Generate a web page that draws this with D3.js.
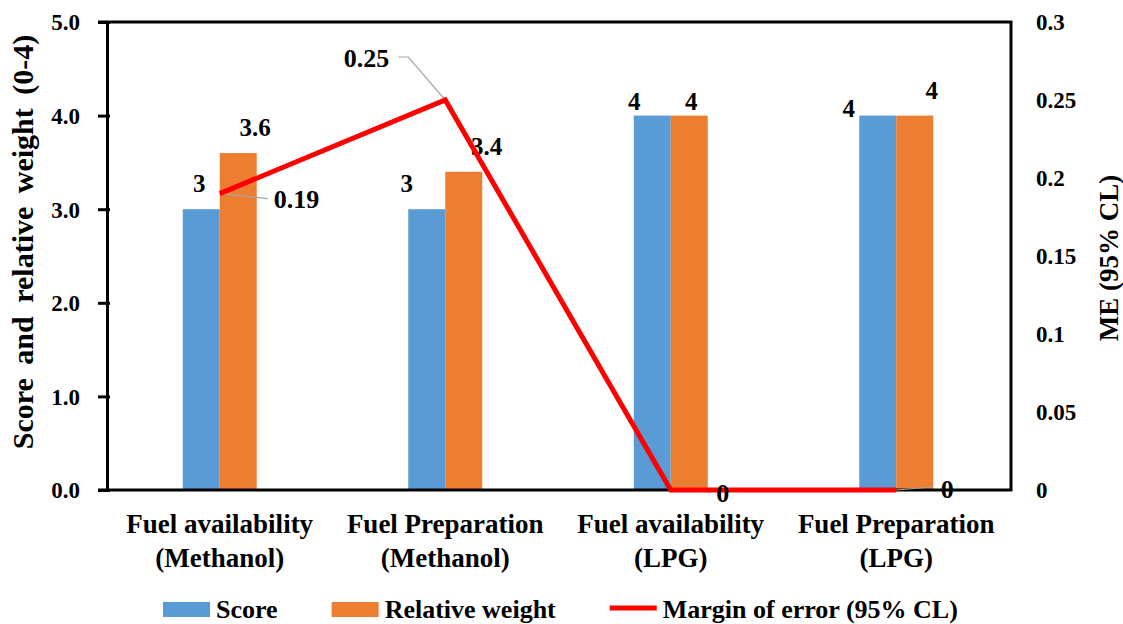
<!DOCTYPE html>
<html>
<head>
<meta charset="utf-8">
<script src="https://cdn.jsdelivr.net/npm/d3@7"></script>
<style>
  html, body { margin: 0; padding: 0; background: #fff; }
  svg { display: block; font-family: "Liberation Serif", "Times New Roman", serif; font-weight: bold; }
</style>
</head>
<body>
<div id="container"></div>
<script>
// data
const categories = [
  ["Fuel availability", "(Methanol)"],
  ["Fuel Preparation", "(Methanol)"],
  ["Fuel availability", "(LPG)"],
  ["Fuel Preparation", "(LPG)"]
];
const score = [3, 3, 4, 4];
const relativeWeight = [3.6, 3.4, 4, 4];
const marginOfError = [0.19, 0.25, 0, 0];
const leftTicks = [0, 1, 2, 3, 4, 5];
const rightTicks = [0, 0.05, 0.1, 0.15, 0.2, 0.25, 0.3];
const seriesNames = ["Score", "Relative weight", "Margin of error (95% CL)"];

// hand placed label nudges (dx, dy from bar top centre), like the moved Excel labels
const scoreNudge = [[-2, -17], [-20, -17], [-18, -6], [-29, 1]];
const weightNudge = [[17, -17], [23, -17], [2, -6], [17, -17]];
// line label nudges from the point, with leader line bends
const meLabels = [
  { anchor: "start", dx: 54, dy: 14, leader: [[48, 5]] },
  { anchor: "end", dx: -56, dy: -33, leader: [[-37, -43], [-47, -43]] },
  { anchor: "middle", dx: 52, dy: 12, leader: [[39, 2]] },
  { anchor: "middle", dx: 51, dy: 8, leader: [[36, -3]] }
];

function init() {
  const width = 1123;
  const height = 624;
  const margin = { top: 22, right: 114, bottom: 134, left: 107 };
  const blue = "#5b9bd5";
  const orange = "#ed7d31";
  const red = "#ff0000";
  const serif = "Liberation Serif, Times New Roman, serif";

  const svg = d3
    .select("#container")
    .append("svg")
    .attr("width", width)
    .attr("height", height);

  const x0 = d3
    .scaleBand()
    .domain(d3.range(categories.length))
    .range([margin.left, width - margin.right])
    .paddingInner(0.672)
    .paddingOuter(0.336);
  const x1 = d3
    .scaleBand()
    .domain([0, 1])
    .range([0, x0.bandwidth()]);
  const y = d3
    .scaleLinear()
    .domain([0, 5])
    .range([height - margin.bottom, margin.top]);
  const y2 = d3
    .scaleLinear()
    .domain([0, 0.3])
    .range([height - margin.bottom, margin.top]);

  const cx = i => x0(i) + x0.bandwidth() / 2;
  const plotRight = width - margin.right + 2;

  // bars
  const groups = svg
    .append("g")
    .selectAll("g")
    .data(categories)
    .join("g")
    .attr("transform", (d, i) => `translate(${x0(i)},0)`);
  groups
    .append("rect")
    .attr("x", x1(0))
    .attr("width", x1.bandwidth())
    .attr("y", (d, i) => y(score[i]))
    .attr("height", (d, i) => y(0) - y(score[i]))
    .attr("fill", blue);
  groups
    .append("rect")
    .attr("x", x1(1))
    .attr("width", x1.bandwidth())
    .attr("y", (d, i) => y(relativeWeight[i]))
    .attr("height", (d, i) => y(0) - y(relativeWeight[i]))
    .attr("fill", orange);

  // bar labels
  groups
    .append("text")
    .attr("x", (d, i) => x1(0) + x1.bandwidth() / 2 + scoreNudge[i][0])
    .attr("y", (d, i) => y(score[i]) + scoreNudge[i][1])
    .attr("text-anchor", "middle")
    .attr("font-size", 25)
    .text((d, i) => score[i]);
  groups
    .append("text")
    .attr("x", (d, i) => x1(1) + x1.bandwidth() / 2 + weightNudge[i][0])
    .attr("y", (d, i) => y(relativeWeight[i]) + weightNudge[i][1])
    .attr("text-anchor", "middle")
    .attr("font-size", 25)
    .text((d, i) => relativeWeight[i]);

  // axes frame
  const leftAxis = svg
    .append("g")
    .attr("transform", `translate(${margin.left},0)`)
    .call(
      d3
        .axisLeft(y)
        .tickValues(leftTicks)
        .tickFormat(d3.format(".1f"))
        .tickSizeInner(9)
        .tickSizeOuter(0)
        .tickPadding(18)
    );
  leftAxis.attr("font-family", serif).attr("font-size", 23);
  leftAxis.select(".domain").attr("stroke", "#000").attr("stroke-width", 3);
  leftAxis.selectAll(".tick line").attr("stroke-width", 3).attr("x2", -9).attr("x1", 3);
  leftAxis.selectAll(".tick text").attr("fill", "#000").attr("dy", "0.34em");

  const frame = svg.append("g").attr("stroke", "#000").attr("stroke-width", 3).attr("fill", "none");
  frame
    .append("path")
    .attr(
      "d",
      `M${margin.left - 9},${y(5)}H${plotRight}V${y(0)}H${margin.left - 9}`
    );

  // right axis labels only
  svg
    .append("g")
    .selectAll("text")
    .data(rightTicks)
    .join("text")
    .attr("x", 1036)
    .attr("y", d => y2(d))
    .attr("dy", "0.34em")
    .attr("font-size", 23)
    .text(d => d3.format("")(d));

  // category labels
  const cat = svg
    .append("g")
    .selectAll("text")
    .data(categories)
    .join("text")
    .attr("text-anchor", "middle")
    .attr("font-size", 27);
  cat
    .selectAll("tspan")
    .data((d, i) => d.map(t => ({ t, i })))
    .join("tspan")
    .attr("x", d => cx(d.i))
    .attr("y", (d, j) => 533 + j * 34)
    .text(d => d.t);

  // axis titles
  svg
    .append("text")
    .attr("transform", "translate(33,242) rotate(-90)")
    .attr("text-anchor", "middle")
    .attr("font-size", 30)
    .attr("word-spacing", 6)
    .text("Score and relative weight (0-4)");
  svg
    .append("text")
    .attr("transform", "translate(1118,258) rotate(-90)")
    .attr("text-anchor", "middle")
    .attr("font-size", 27)
    .text("ME (95% CL)");

  // leader lines
  const pts = marginOfError.map((v, i) => [cx(i), y2(v)]);
  svg
    .append("g")
    .selectAll("path")
    .data(meLabels)
    .join("path")
    .attr("fill", "none")
    .attr("stroke", "#a6a6a6")
    .attr("stroke-width", 1.2)
    .attr("d", (d, i) =>
      d3.line()([pts[i], ...d.leader.map(([dx, dy]) => [pts[i][0] + dx, pts[i][1] + dy])])
    );

  // margin of error line
  svg
    .append("path")
    .datum(pts)
    .attr("fill", "none")
    .attr("stroke", red)
    .attr("stroke-width", 5)
    .attr("stroke-linejoin", "miter")
    .attr("d", d3.line());

  svg
    .append("g")
    .selectAll("text")
    .data(meLabels)
    .join("text")
    .attr("x", (d, i) => pts[i][0] + d.dx)
    .attr("y", (d, i) => pts[i][1] + d.dy)
    .attr("text-anchor", d => d.anchor)
    .attr("font-size", 26)
    .text((d, i) => marginOfError[i]);

  // legend
  const legend = svg.append("g").attr("font-size", 26);
  let lx = 163;
  seriesNames.forEach((name, i) => {
    if (i < 2) {
      legend
        .append("rect")
        .attr("x", lx)
        .attr("y", 602)
        .attr("width", 47)
        .attr("height", 15)
        .attr("fill", i === 0 ? blue : orange);
    } else {
      legend
        .append("line")
        .attr("x1", lx)
        .attr("x2", lx + 47)
        .attr("y1", 608)
        .attr("y2", 608)
        .attr("stroke", red)
        .attr("stroke-width", 5);
    }
    const t = legend
      .append("text")
      .attr("x", lx + 53)
      .attr("y", 618)
      .text(name);
    lx += 53 + t.node().getComputedTextLength() + 54;
  });
}

document.addEventListener("DOMContentLoaded", init);
</script>
</body>
</html>
